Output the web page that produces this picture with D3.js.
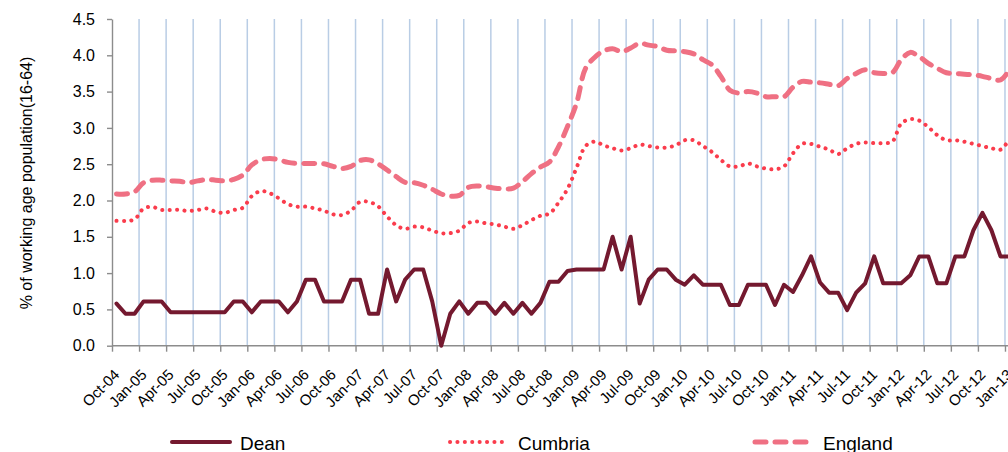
<!DOCTYPE html>
<html>
<head>
<meta charset="utf-8">
<script src="https://cdn.jsdelivr.net/npm/d3@7"></script>
<style>
  body { margin: 0; background: #fff; }
  svg { display: block; font-family: "Liberation Sans", Arial, sans-serif; }
</style>
</head>
<body>
<div id="vis"></div>
<script>
// monthly series, Oct-04 to Jan-13
const MONTHS = d3.timeMonth.range(new Date(2004, 9, 1), new Date(2013, 1, 1));

const DEAN = [0.58, 0.44, 0.44, 0.61, 0.61, 0.61, 0.46, 0.46, 0.46, 0.46,
              0.46, 0.46, 0.46, 0.61, 0.61, 0.46, 0.61, 0.61, 0.61, 0.46,
              0.61, 0.91, 0.91, 0.61, 0.61, 0.61, 0.91, 0.91, 0.44, 0.44,
              1.05, 0.61, 0.91, 1.05, 1.05, 0.61, 0.00, 0.44, 0.61, 0.44,
              0.59, 0.59, 0.44, 0.59, 0.44, 0.59, 0.44, 0.59, 0.88, 0.88,
              1.03, 1.05, 1.05, 1.05, 1.05, 1.50, 1.05, 1.50, 0.58, 0.91,
              1.05, 1.05, 0.91, 0.84, 0.97, 0.84, 0.84, 0.84, 0.56, 0.56,
              0.84, 0.84, 0.84, 0.56, 0.84, 0.74, 0.97, 1.23, 0.87, 0.73,
              0.73, 0.49, 0.73, 0.86, 1.23, 0.86, 0.86, 0.86, 0.97, 1.23,
              1.23, 0.86, 0.86, 1.23, 1.23, 1.59, 1.83, 1.59, 1.23, 1.23];

const CUMBRIA = [1.72, 1.72, 1.74, 1.89, 1.91, 1.87, 1.87, 1.87, 1.855, 1.87,
                 1.89, 1.845, 1.83, 1.87, 1.90, 2.06, 2.13, 2.10, 2.03, 1.95,
                 1.915, 1.915, 1.89, 1.86, 1.81, 1.80, 1.86, 1.98, 1.98, 1.92,
                 1.78, 1.66, 1.61, 1.64, 1.63, 1.585, 1.55, 1.55, 1.585, 1.69,
                 1.71, 1.685, 1.67, 1.64, 1.61, 1.66, 1.73, 1.79, 1.82, 1.97,
                 2.16, 2.45, 2.75, 2.81, 2.76, 2.72, 2.69, 2.72, 2.77, 2.75,
                 2.73, 2.73, 2.76, 2.83, 2.83, 2.75, 2.67, 2.56, 2.47, 2.47,
                 2.51, 2.47, 2.44, 2.43, 2.47, 2.65, 2.78, 2.78, 2.74, 2.70,
                 2.64, 2.72, 2.78, 2.80, 2.79, 2.79, 2.81, 3.06, 3.12, 3.10,
                 3.01, 2.90, 2.83, 2.83, 2.81, 2.78, 2.75, 2.72, 2.70, 2.85];

const ENGLAND = [2.09, 2.09, 2.12, 2.245, 2.28, 2.28, 2.27, 2.265, 2.245, 2.27,
                 2.29, 2.28, 2.27, 2.29, 2.35, 2.49, 2.56, 2.58, 2.56, 2.525,
                 2.51, 2.51, 2.51, 2.505, 2.47, 2.44, 2.47, 2.55, 2.56, 2.505,
                 2.42, 2.33, 2.25, 2.245, 2.21, 2.155, 2.09, 2.06, 2.07, 2.18,
                 2.20, 2.19, 2.17, 2.16, 2.17, 2.26, 2.37, 2.46, 2.53, 2.74,
                 3.02, 3.34, 3.82, 3.97, 4.06, 4.09, 4.05, 4.10, 4.165, 4.14,
                 4.12, 4.07, 4.06, 4.05, 4.02, 3.94, 3.87, 3.71, 3.52, 3.48,
                 3.50, 3.48, 3.43, 3.43, 3.43, 3.56, 3.64, 3.63, 3.62, 3.60,
                 3.58, 3.68, 3.75, 3.80, 3.76, 3.75, 3.76, 3.94, 4.04, 3.98,
                 3.89, 3.82, 3.76, 3.75, 3.74, 3.73, 3.71, 3.68, 3.66, 3.80];

// one label every third month
const TICK_LABELS = ['Oct-04', 'Jan-05', 'Apr-05', 'Jul-05', 'Oct-05', 'Jan-06', 'Apr-06',
                     'Jul-06', 'Oct-06', 'Jan-07', 'Apr-07', 'Jul-07', 'Oct-07', 'Jan-08',
                     'Apr-08', 'Jul-08', 'Oct-08', 'Jan-09', 'Apr-09', 'Jul-09', 'Oct-09',
                     'Jan-10', 'Apr-10', 'Jul-10', 'Oct-10', 'Jan-11', 'Apr-11', 'Jul-11',
                     'Oct-11', 'Jan-12', 'Apr-12', 'Jul-12', 'Oct-12', 'Jan-13'];
const Y_TICKS = [0, 0.5, 1, 1.5, 2, 2.5, 3, 3.5, 4, 4.5];

// setting up the basics
const FRAME_WIDTH = 1008;
const FRAME_HEIGHT = 452;
const PLOT = {left: 112, top: 19, bottom: 345.7, step: 9.02};

const SVG = d3.select('#vis')
                .append('svg')
                    .attr('width', FRAME_WIDTH)
                    .attr('height', FRAME_HEIGHT);

// x runs over month index, points sit in the middle of each month slot
const X_SCALE = d3.scaleLinear()
    .domain([0, MONTHS.length])
    .range([PLOT.left, PLOT.left + MONTHS.length * PLOT.step]);

const Y_SCALE = d3.scaleLinear()
    .domain([0, 4.5])
    .range([PLOT.bottom, PLOT.top]);

const TICK_IDX = TICK_LABELS.map((d, i) => i * 3);

// vertical gridlines
SVG.append('g')
    .selectAll('line')
    .data(TICK_IDX.slice(1))
    .enter()
    .append('line')
    .attr('x1', (d) => X_SCALE(d))
    .attr('x2', (d) => X_SCALE(d))
    .attr('y1', Y_SCALE(4.5))
    .attr('y2', Y_SCALE(0))
    .attr('stroke', '#b9cde5')
    .attr('stroke-width', 1.5);

// x axis
const X_AXIS = SVG.append('g')
    .attr('transform', 'translate(0,' + PLOT.bottom + ')')
    .call(d3.axisBottom(X_SCALE).tickValues(TICK_IDX).tickFormat('').tickSize(6).tickSizeOuter(0));
X_AXIS.select('.domain').attr('d', 'M' + PLOT.left + ',0H' + FRAME_WIDTH);
X_AXIS.selectAll('line, path').attr('stroke', '#8c8c8c').attr('stroke-width', 1.4);

// rotated month labels, anchored a little right of the month centre
SVG.append('g')
    .selectAll('text')
    .data(TICK_LABELS)
    .enter()
    .append('text')
    .attr('transform', (d, i) => 'translate(' + (X_SCALE(TICK_IDX[i] + 0.5) + 4) + ',' + (PLOT.bottom + 30) + ') rotate(-45)')
    .attr('text-anchor', 'end')
    .attr('font-size', '15px')
    .attr('fill', '#000')
    .text((d) => d);

// y axis
const Y_AXIS = SVG.append('g')
    .attr('transform', 'translate(' + PLOT.left + ',0)')
    .call(d3.axisLeft(Y_SCALE).tickValues(Y_TICKS).tickFormat(d3.format('.1f')).tickSize(5).tickPadding(12).tickSizeOuter(0));
Y_AXIS.selectAll('line, path').attr('stroke', '#8c8c8c').attr('stroke-width', 1.4);
Y_AXIS.selectAll('text').attr('font-size', '16px').attr('fill', '#000');
Y_AXIS.attr('font-family', null);

// y axis title
SVG.append('text')
    .attr('transform', 'translate(26,183) rotate(-90)')
    .attr('text-anchor', 'middle')
    .attr('dy', '0.35em')
    .attr('font-size', '16px')
    .text('% of working age population(16-64)');

// series styles
const SERIES = [
    {name: 'Dean', values: DEAN, color: '#74192f', width: 4, dash: null, curve: d3.curveLinear, legendX: 170},
    {name: 'Cumbria', values: CUMBRIA, color: '#fa3c4c', width: 4, dash: '0.1 7.3', curve: d3.curveCatmullRom.alpha(0.5), legendX: 448},
    {name: 'England', values: ENGLAND, color: '#ef7083', width: 5, dash: '11 9', curve: d3.curveCatmullRom.alpha(0.5), legendX: 753}
];

// draw back to front, Dean on top
SERIES.slice().reverse().forEach((s) => {
    const line = d3.line()
        .x((d, i) => X_SCALE(i + 0.5))
        .y((d) => Y_SCALE(d))
        .curve(s.curve);
    SVG.append('path')
        .datum(s.values)
        .attr('d', line)
        .attr('fill', 'none')
        .attr('stroke', s.color)
        .attr('stroke-width', s.width)
        .attr('stroke-linecap', 'round')
        .attr('stroke-linejoin', 'round')
        .attr('stroke-dasharray', s.dash);
});

// legend along the bottom
const LEGEND = SVG.append('g');
SERIES.forEach((s) => {
    LEGEND.append('line')
        .attr('x1', s.legendX + 2)
        .attr('x2', s.legendX + 60)
        .attr('y1', 442)
        .attr('y2', 442)
        .attr('stroke', s.color)
        .attr('stroke-width', s.width)
        .attr('stroke-linecap', 'round')
        .attr('stroke-dasharray', s.dash);
    LEGEND.append('text')
        .attr('x', s.legendX + 70)
        .attr('y', 450)
        .attr('font-size', '19px')
        .text(s.name);
});
</script>
</body>
</html>
